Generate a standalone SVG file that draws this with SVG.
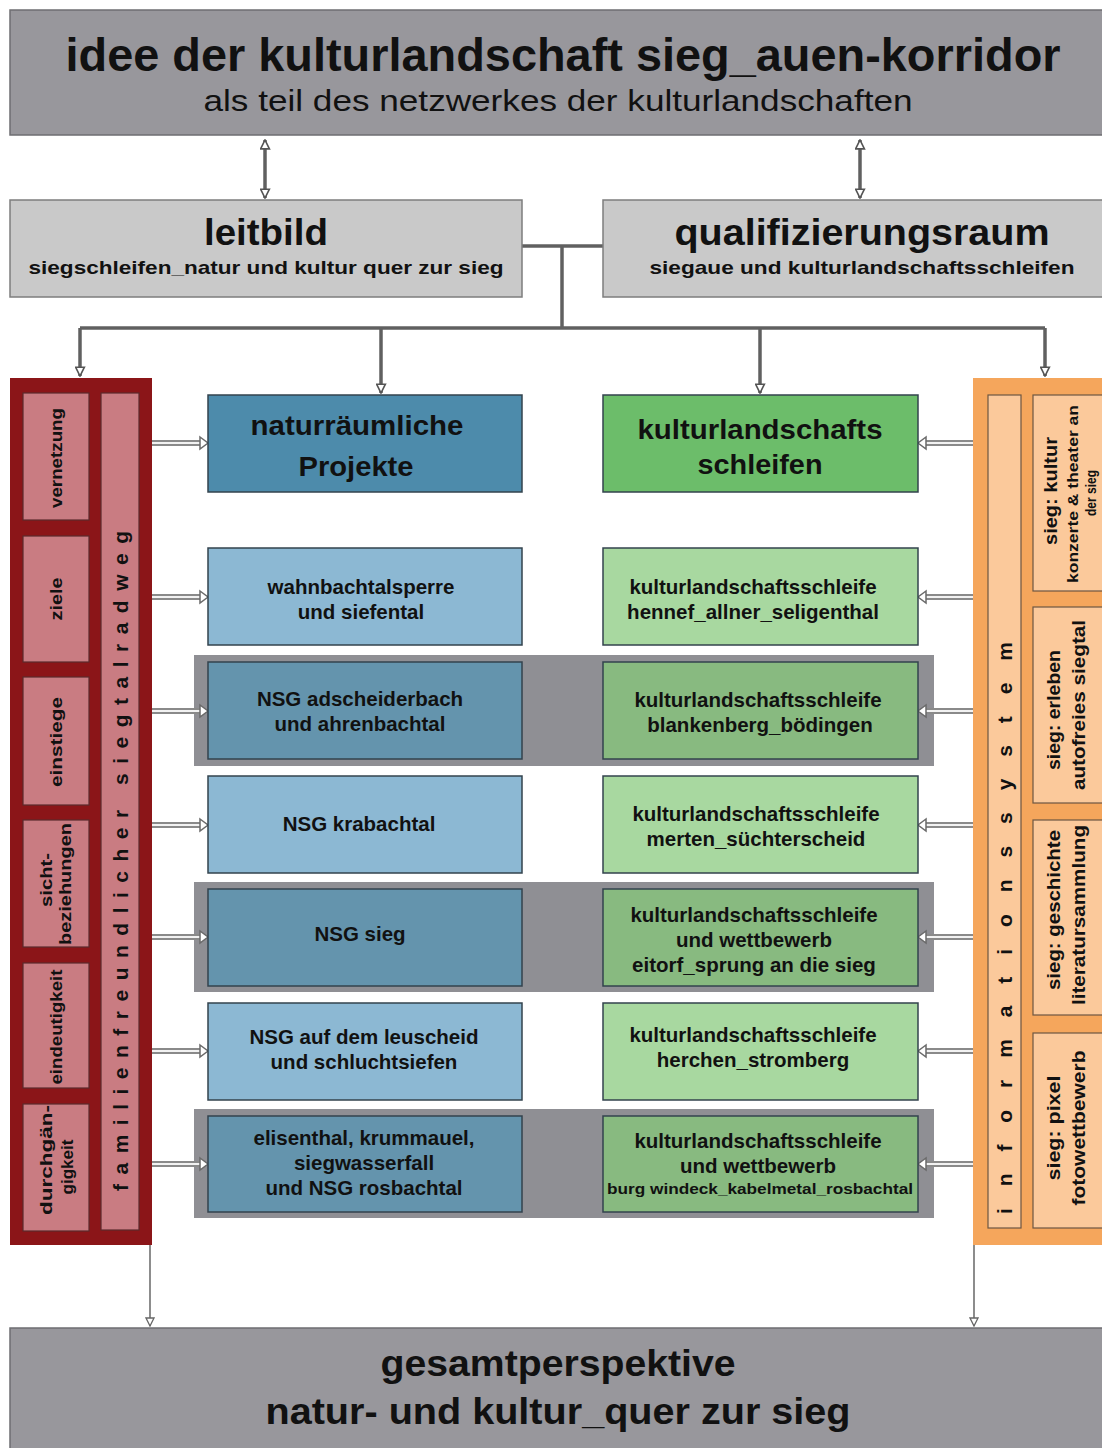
<svg xmlns="http://www.w3.org/2000/svg" width="1102" height="1448" viewBox="0 0 1102 1448">
<style>
text{font-family:"Liberation Sans",Arial,sans-serif;font-weight:bold;fill:#111;text-anchor:middle}
.big{fill:#98979c;stroke:#6e6e72;stroke-width:1.5}
.mid{fill:#c9c9c9;stroke:#7d7d7d;stroke-width:1.5}
.box{stroke:#33434d;stroke-width:1.5}
.bh{fill:#4d8bab}.bl{fill:#8cb8d3}.bm{fill:#6494ad}
.gh{fill:#6cbd6a}.gl{fill:#a8d8a0}.gm{fill:#88ba80}
.band{fill:#8f8f94}
.red{fill:#8b1518}
.pink{fill:#c97c82;stroke:#5b2a2c;stroke-width:1.2}
.org{fill:#f5a65c}
.peach{fill:#fbc99b;stroke:#6d5642;stroke-width:1.2}
.conn{fill:none;stroke:#606060;stroke-width:3.5}
.thin{fill:none;stroke:#707070;stroke-width:1.6}
.hout{fill:none;stroke:#8a8a8a;stroke-width:6}
.hin{fill:none;stroke:#f2f2f2;stroke-width:2}
.head{fill:#fff;stroke:#6a6a6a;stroke-width:1.5}
.r{font-size:20.5px}
.v{font-size:17px}
.s{font-size:19px}
.vs{font-size:14px}
</style>
<defs>
<marker id="oa" viewBox="0 0 10 10" refX="9" refY="5" markerWidth="11" markerHeight="11" markerUnits="userSpaceOnUse" orient="auto-start-reverse">
<path d="M1,1 L9,5 L1,9 Z" fill="#fff" stroke="#555" stroke-width="1.5"/>
</marker>
<marker id="ob" viewBox="0 0 10 10" refX="9" refY="5" markerWidth="10" markerHeight="10" markerUnits="userSpaceOnUse" orient="auto">
<path d="M1,1 L9,5 L1,9 Z" fill="#fff" stroke="#666" stroke-width="1.3"/>
</marker>
</defs>
<rect x="0" y="0" width="1102" height="1448" fill="#fff"/>

<g id="bands">
<rect class="band" x="194" y="655" width="740" height="111"/>
<rect class="band" x="194" y="882" width="740" height="110"/>
<rect class="band" x="194" y="1109" width="740" height="109"/>
</g>

<g id="connectors">
<line class="conn" x1="265" y1="140" x2="265" y2="198" marker-start="url(#oa)" marker-end="url(#oa)" stroke-width="3"/>
<line class="conn" x1="860" y1="140" x2="860" y2="198" marker-start="url(#oa)" marker-end="url(#oa)" stroke-width="3"/>
<line class="conn" x1="522" y1="246" x2="603" y2="246" stroke-width="5"/>
<line class="conn" x1="562" y1="246" x2="562" y2="328"/>
<line class="conn" x1="80" y1="328" x2="1045" y2="328"/>
<line class="conn" x1="80" y1="328" x2="80" y2="376" marker-end="url(#oa)" stroke-width="3"/>
<line class="conn" x1="381" y1="328" x2="381" y2="393" marker-end="url(#oa)" stroke-width="3"/>
<line class="conn" x1="760" y1="328" x2="760" y2="393" marker-end="url(#oa)" stroke-width="3"/>
<line class="conn" x1="1045" y1="328" x2="1045" y2="376" marker-end="url(#oa)" stroke-width="3"/>
<line class="thin" x1="150" y1="1245" x2="150" y2="1326" marker-end="url(#ob)"/>
<line class="thin" x1="974" y1="1245" x2="974" y2="1326" marker-end="url(#ob)"/>
<g id="left-arrows">
<path class="hout" d="M152,443H201M152,597H201M152,711H201M152,825H201M152,937H201M152,1051H201M152,1164H201"/>
<path class="hin" d="M152,443H201M152,597H201M152,711H201M152,825H201M152,937H201M152,1051H201M152,1164H201"/>
<path class="head" d="M200,437L208,443L200,449ZM200,591L208,597L200,603ZM200,705L208,711L200,717ZM200,819L208,825L200,831ZM200,931L208,937L200,943ZM200,1045L208,1051L200,1057ZM200,1158L208,1164L200,1170Z"/>
</g>
<g id="right-arrows">
<path class="hout" d="M973,443H925M973,597H925M973,711H925M973,825H925M973,937H925M973,1051H925M973,1164H925"/>
<path class="hin" d="M973,443H925M973,597H925M973,711H925M973,825H925M973,937H925M973,1051H925M973,1164H925"/>
<path class="head" d="M926,437L918,443L926,449ZM926,591L918,597L926,603ZM926,705L918,711L926,717ZM926,819L918,825L926,831ZM926,931L918,937L926,943ZM926,1045L918,1051L926,1057ZM926,1158L918,1164L926,1170Z"/>
</g>
</g>

<g id="idee">
<rect class="big" x="10" y="10" width="1100" height="125"/>
<text x="563" y="71" font-size="46" textLength="995" lengthAdjust="spacingAndGlyphs">idee der kulturlandschaft sieg_auen-korridor</text>
<text x="558" y="111" font-size="29" textLength="709" lengthAdjust="spacingAndGlyphs" style="font-weight:normal">als teil des netzwerkes der kulturlandschaften</text>
</g>

<g id="leitbild">
<rect class="mid" x="10" y="200" width="512" height="97"/>
<text x="266" y="245" font-size="36" textLength="124" lengthAdjust="spacingAndGlyphs">leitbild</text>
<text x="266" y="274" font-size="19" textLength="475" lengthAdjust="spacingAndGlyphs">siegschleifen_natur und kultur quer zur sieg</text>
</g>

<g id="qualifizierungsraum">
<rect class="mid" x="603" y="200" width="510" height="97"/>
<text x="862" y="245" font-size="36" textLength="375" lengthAdjust="spacingAndGlyphs">qualifizierungsraum</text>
<text x="862" y="274" font-size="19" textLength="425" lengthAdjust="spacingAndGlyphs">siegaue und kulturlandschaftsschleifen</text>
</g>

<g id="radweg">
<rect class="red" x="10" y="378" width="142" height="867"/>
<rect class="pink" x="101" y="393" width="38" height="837"/>
<text transform="translate(128,861) rotate(-90)" font-size="21" textLength="660" lengthAdjust="spacing">familienfreundlicher siegtalradweg</text>
</g>
<g id="vernetzung"><rect class="pink" x="23" y="393" width="66" height="127"/><text class="v" transform="translate(62,458) rotate(-90)" textLength="100" lengthAdjust="spacingAndGlyphs">vernetzung</text></g>
<g id="ziele"><rect class="pink" x="23" y="536" width="66" height="126"/><text class="v" transform="translate(62,599) rotate(-90)" textLength="43" lengthAdjust="spacingAndGlyphs">ziele</text></g>
<g id="einstiege"><rect class="pink" x="23" y="677" width="66" height="128"/><text class="v" transform="translate(62,742) rotate(-90)" textLength="90" lengthAdjust="spacingAndGlyphs">einstiege</text></g>
<g id="sichtbeziehungen"><rect class="pink" x="23" y="820" width="66" height="127"/><text class="v" transform="translate(52,880) rotate(-90)" textLength="54" lengthAdjust="spacingAndGlyphs">sicht-</text><text class="v" transform="translate(71,884) rotate(-90)" textLength="122" lengthAdjust="spacingAndGlyphs">beziehungen</text></g>
<g id="eindeutigkeit"><rect class="pink" x="23" y="963" width="66" height="125"/><text class="v" transform="translate(62,1027) rotate(-90)" textLength="115" lengthAdjust="spacingAndGlyphs">eindeutigkeit</text></g>
<g id="durchgaengigkeit"><rect class="pink" x="23" y="1104" width="66" height="127"/><text class="v" transform="translate(52,1160) rotate(-90)" textLength="110" lengthAdjust="spacingAndGlyphs">durchgän-</text><text class="v" transform="translate(73,1167) rotate(-90)" textLength="55" lengthAdjust="spacingAndGlyphs">gigkeit</text></g>

<g id="informationssystem">
<rect class="org" x="973" y="378" width="140" height="867"/>
<rect class="peach" x="988" y="395" width="33" height="833"/>
<text transform="translate(1012,928) rotate(-90)" font-size="21" textLength="572" lengthAdjust="spacing">informationssystem</text>
</g>
<g id="sieg-kultur"><rect class="peach" x="1033" y="395" width="80" height="196"/>
<text class="s" transform="translate(1057,491) rotate(-90)" textLength="108" lengthAdjust="spacingAndGlyphs">sieg: kultur</text>
<text class="vs" transform="translate(1078,494) rotate(-90)" textLength="178" lengthAdjust="spacingAndGlyphs">konzerte &amp; theater an</text>
<text class="vs" transform="translate(1096,493) rotate(-90)" textLength="46" lengthAdjust="spacingAndGlyphs">der sieg</text></g>
<g id="sieg-erleben"><rect class="peach" x="1033" y="607" width="80" height="196"/>
<text class="s" transform="translate(1060,710) rotate(-90)" textLength="120" lengthAdjust="spacingAndGlyphs">sieg: erleben</text>
<text class="s" transform="translate(1085,705) rotate(-90)" textLength="170" lengthAdjust="spacingAndGlyphs">autofreies siegtal</text></g>
<g id="sieg-geschichte"><rect class="peach" x="1033" y="820" width="80" height="195"/>
<text class="s" transform="translate(1060,910) rotate(-90)" textLength="160" lengthAdjust="spacingAndGlyphs">sieg: geschichte</text>
<text class="s" transform="translate(1085,915) rotate(-90)" textLength="180" lengthAdjust="spacingAndGlyphs">literatursammlung</text></g>
<g id="sieg-pixel"><rect class="peach" x="1033" y="1033" width="80" height="195"/>
<text class="s" transform="translate(1060,1128) rotate(-90)" textLength="105" lengthAdjust="spacingAndGlyphs">sieg: pixel</text>
<text class="s" transform="translate(1085,1128) rotate(-90)" textLength="155" lengthAdjust="spacingAndGlyphs">fotowettbewerb</text></g>

<g id="naturraeumliche"><rect class="box bh" x="208" y="395" width="314" height="97"/>
<text x="357" y="435" font-size="28" textLength="213" lengthAdjust="spacingAndGlyphs">naturräumliche</text><text x="356" y="476" font-size="28" textLength="115" lengthAdjust="spacingAndGlyphs">Projekte</text></g>
<g id="kulturlandschaftsschleifen"><rect class="box gh" x="603" y="395" width="315" height="97"/>
<text x="760" y="439" font-size="28" textLength="245" lengthAdjust="spacingAndGlyphs">kulturlandschafts</text><text x="760" y="474" font-size="28" textLength="125" lengthAdjust="spacingAndGlyphs">schleifen</text></g>

<g id="wahnbach"><rect class="box bl" x="208" y="548" width="314" height="97"/>
<text class="r" x="361" y="594">wahnbachtalsperre</text><text class="r" x="361" y="619">und siefental</text></g>
<g id="hennef"><rect class="box gl" x="603" y="548" width="315" height="97"/>
<text class="r" x="753" y="594">kulturlandschaftsschleife</text><text class="r" x="753" y="619">hennef_allner_seligenthal</text></g>

<g id="adscheiderbach"><rect class="box bm" x="208" y="662" width="314" height="97"/>
<text class="r" x="360" y="706">NSG adscheiderbach</text><text class="r" x="360" y="731">und ahrenbachtal</text></g>
<g id="blankenberg"><rect class="box gm" x="603" y="662" width="315" height="97"/>
<text class="r" x="758" y="707">kulturlandschaftsschleife</text><text class="r" x="760" y="732">blankenberg_bödingen</text></g>

<g id="krabachtal"><rect class="box bl" x="208" y="776" width="314" height="97"/>
<text class="r" x="359" y="831">NSG krabachtal</text></g>
<g id="merten"><rect class="box gl" x="603" y="776" width="315" height="97"/>
<text class="r" x="756" y="821">kulturlandschaftsschleife</text><text class="r" x="756" y="846">merten_süchterscheid</text></g>

<g id="nsgsieg"><rect class="box bm" x="208" y="889" width="314" height="97"/>
<text class="r" x="360" y="941">NSG sieg</text></g>
<g id="eitorf"><rect class="box gm" x="603" y="889" width="315" height="97"/>
<text class="r" x="754" y="922">kulturlandschaftsschleife</text><text class="r" x="754" y="947">und wettbewerb</text><text class="r" x="754" y="972">eitorf_sprung an die sieg</text></g>

<g id="leuscheid"><rect class="box bl" x="208" y="1003" width="314" height="97"/>
<text class="r" x="364" y="1044">NSG auf dem leuscheid</text><text class="r" x="364" y="1069">und schluchtsiefen</text></g>
<g id="herchen"><rect class="box gl" x="603" y="1003" width="315" height="97"/>
<text class="r" x="753" y="1042">kulturlandschaftsschleife</text><text class="r" x="753" y="1067">herchen_stromberg</text></g>

<g id="elisenthal"><rect class="box bm" x="208" y="1116" width="314" height="96"/>
<text class="r" x="364" y="1145">elisenthal, krummauel,</text><text class="r" x="364" y="1170">siegwasserfall</text><text class="r" x="364" y="1195">und NSG rosbachtal</text></g>
<g id="windeck"><rect class="box gm" x="603" y="1116" width="315" height="96"/>
<text class="r" x="758" y="1148">kulturlandschaftsschleife</text><text class="r" x="758" y="1173">und wettbewerb</text><text x="760" y="1194" font-size="15" textLength="306" lengthAdjust="spacingAndGlyphs">burg windeck_kabelmetal_rosbachtal</text></g>

<g id="gesamtperspektive">
<rect class="big" x="10" y="1328" width="1100" height="125"/>
<text x="558" y="1376" font-size="36" textLength="355" lengthAdjust="spacingAndGlyphs">gesamtperspektive</text>
<text x="558" y="1424" font-size="36" textLength="585" lengthAdjust="spacingAndGlyphs">natur- und kultur_quer zur sieg</text>
</g>
</svg>
